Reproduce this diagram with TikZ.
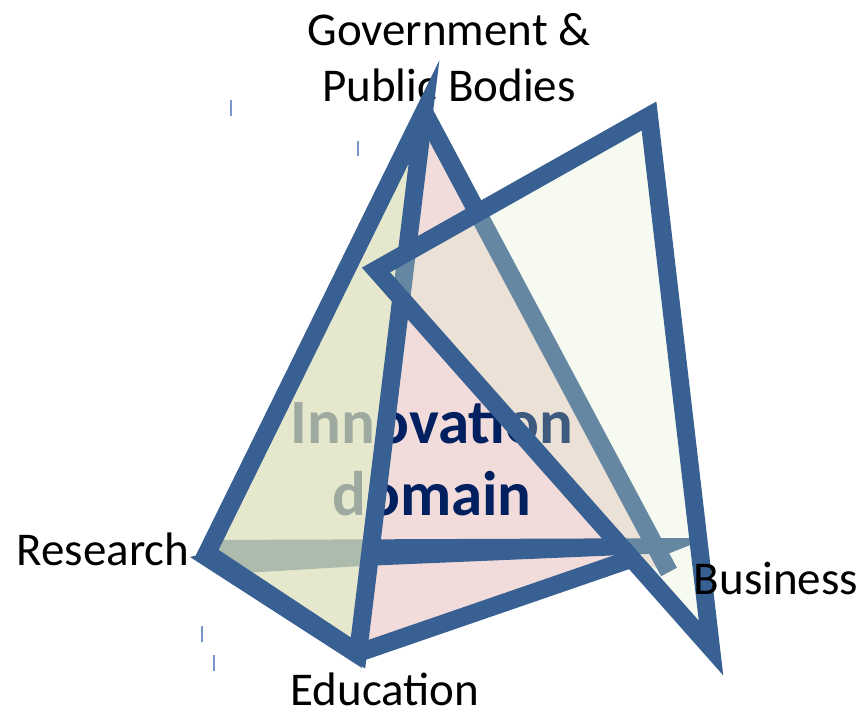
\documentclass[tikz,border=0pt]{standalone}
\usepackage{fontspec}
\setmainfont{Carlito}
\definecolor{edgeblue}{RGB}{56,96,146}
\definecolor{faceyellow}{RGB}{219,223,184}
\definecolor{facepink}{RGB}{242,220,219}
\definecolor{facegreen}{RGB}{221,238,205}
\definecolor{domainblue}{RGB}{0,32,96}
\definecolor{tickblue}{RGB}{120,150,200}
\begin{document}
\begin{tikzpicture}[x=0.5pt,y=-0.5pt]
	\tikzstyle{edge}=[draw=edgeblue, line width=9pt, line join=miter]
	\tikzstyle{corner}=[font=\fontsize{23.5}{28}\selectfont, inner sep=0pt]
	\tikzstyle{tick}=[draw=tickblue, line width=1pt]
	
	\useasboundingbox (0,0) rectangle (862,717);
	
	% tetrahedron corners
	\coordinate (G) at (424,112);
	\coordinate (R) at (207,553);
	\coordinate (E) at (358,653);
	\coordinate (P) at (628,560);
	\coordinate (B) at (669,572);
	\coordinate (Rt) at (190,557);
	\coordinate (Et) at (362,668);
	% back face
	\coordinate (w1) at (205,540);
	\coordinate (w2) at (708,538);
	\coordinate (w3) at (670,553);
	\coordinate (w4) at (363,566);
	\coordinate (w5) at (225,574);
	% second triangle
	\coordinate (L) at (376,270);
	\coordinate (T) at (649,116);
	\coordinate (K) at (711,648);
	
	\node[corner, align=center] (gov) at (449,58) {Government \&\\Public Bodies};
	
	\fill[facepink] (G) -- (E) -- (P) -- (B) -- cycle;
	\fill[edgeblue] (w1) -- (w2) -- (w3) -- (w4) -- (w5) -- cycle;
	\draw[edge] (G) -- (B);
	
	\node[font=\fontsize{31.5}{36}\selectfont\bfseries, text=domainblue, align=center, inner sep=0pt] (dom) at (432,458) {Innovation\\domain};
	
	\fill[faceyellow, fill opacity=0.72] (G) -- (R) -- (E) -- cycle;
	\draw[edge] (R) -- (G) -- (E) -- cycle;
	\fill[edgeblue] (Rt) -- (Et) -- (E) -- (R) -- cycle;
	\draw[edge] (E) -- (P);
	
	\draw[edge, fill=facegreen, fill opacity=0.28] (L) -- (T) -- (K) -- cycle;
	
	\node[corner, anchor=base] (res) at (103,565) {Research};
	\node[corner, anchor=base] (bus) at (776,594) {Business};
	\node[corner, anchor=base] (edu) at (385,705) {Education};
	
	\draw[tick] (231,100) -- (231,116);
	\draw[tick] (358,141) -- (358,156);
	\draw[tick] (202,626) -- (202,642);
	\draw[tick] (214,655) -- (214,671);
\end{tikzpicture}
\end{document}
